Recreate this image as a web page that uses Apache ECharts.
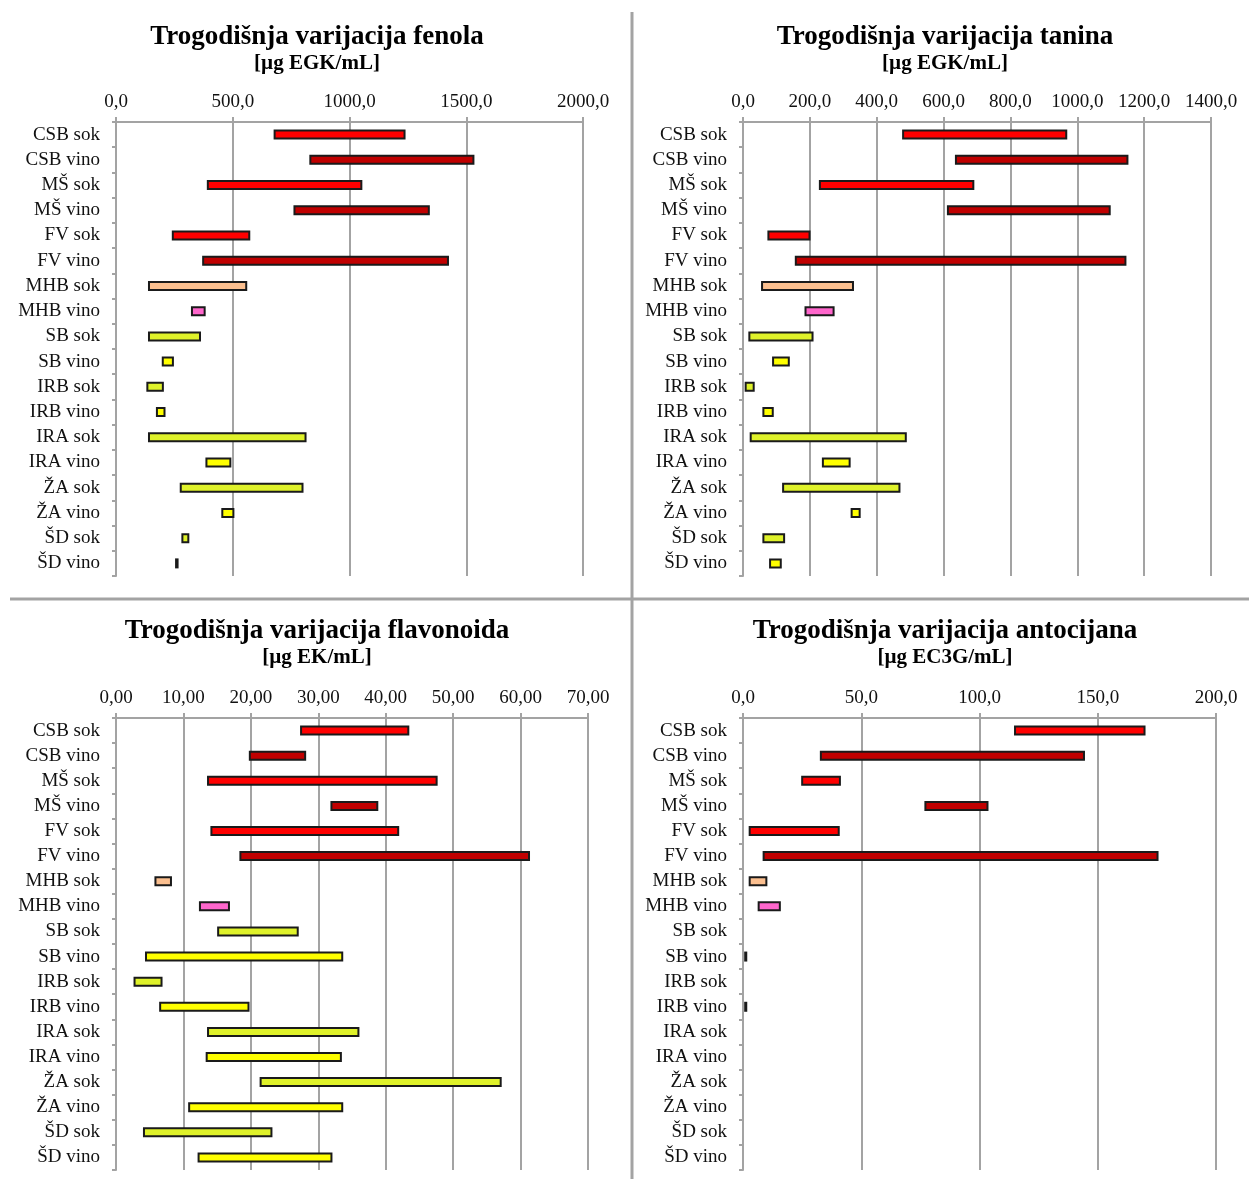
<!DOCTYPE html>
<html>
<head>
<meta charset="utf-8">
<title>Trogodišnja varijacija</title>
<script src="https://cdn.jsdelivr.net/npm/echarts@6/dist/echarts.min.js"></script>
<style>
  html, body { margin: 0; padding: 0; background: #ffffff; }
  #chart { width: 1249px; height: 1179px; }
</style>
</head>
<body>
<div id="chart"></div>
<script>
// Uzorci (sok / vino) – isti redoslijed u sva četiri grafikona
const categories = ['CSB sok', 'CSB vino', 'MŠ sok', 'MŠ vino', 'FV sok', 'FV vino',
  'MHB sok', 'MHB vino', 'SB sok', 'SB vino', 'IRB sok', 'IRB vino',
  'IRA sok', 'IRA vino', 'ŽA sok', 'ŽA vino', 'ŠD sok', 'ŠD vino'];

// Fenoli [µg EGK/mL] – najniža i najviša vrijednost u tri godine
const fenolMin = [675, 828, 389, 760, 239, 369, 137, 321, 137, 196, 130, 171, 137, 383, 273, 451, 280, 253];
const fenolMax = [1240, 1535, 1055, 1344, 575, 1426, 562, 384, 364, 248, 205, 212, 816, 494, 803, 507, 314, 268];

// Tanini [µg EGK/mL]
const taninMin = [476, 634, 227, 610, 73, 155, 54, 184, 16, 87, 5, 58, 20, 236, 117, 322, 58, 78];
const taninMax = [970, 1153, 692, 1100, 202, 1147, 332, 274, 211, 140, 35, 92, 490, 322, 471, 352, 126, 116];

// Flavonoidi [µg EK/mL]
const flavMin = [27.3, 19.7, 13.5, 31.8, 14.0, 18.3, 5.7, 12.3, 15.0, 4.3, 2.6, 6.4, 13.5, 13.3, 21.3, 10.7, 4.0, 12.1];
const flavMax = [43.5, 28.2, 47.7, 38.9, 42.0, 61.4, 8.3, 16.9, 27.1, 33.7, 6.9, 19.8, 36.1, 33.5, 57.2, 33.7, 23.2, 32.1];

// Antocijani [µg EC3G/mL] – bijeli uzorci bez mjerljivih antocijana
const antoMin = [114.6, 32.5, 24.6, 76.7, 2.4, 8.3, 2.4, 6.2, null, 0.5, null, 0.5, null, null, null, null, null, null];
const antoMax = [170.2, 144.6, 41.4, 103.8, 40.9, 175.7, 10.3, 16.0, null, 1.8, null, 1.8, null, null, null, null, null, null];

// Boje stupaca po uzorku
const barColors = ['#FF0000', '#C00000', '#FF0000', '#C00000', '#FF0000', '#C00000',
  '#FBBF8F', '#FF66CC', '#DFF22A', '#FFFF00', '#DFF22A', '#FFFF00',
  '#DFF22A', '#FFFF00', '#DFF22A', '#FFFF00', '#DFF22A', '#FFFF00'];

const panels = [
  { title: 'Trogodišnja varijacija fenola', unit: '[µg EGK/mL]', min: fenolMin, max: fenolMax,
    axisMax: 2000, interval: 500, decimals: 1,
    grid: { left: 116, top: 122, width: 467, height: 454 }, titleX: 317, titleY: 24 },
  { title: 'Trogodišnja varijacija tanina', unit: '[µg EGK/mL]', min: taninMin, max: taninMax,
    axisMax: 1400, interval: 200, decimals: 1,
    grid: { left: 743, top: 122, width: 468, height: 454 }, titleX: 945, titleY: 24 },
  { title: 'Trogodišnja varijacija flavonoida', unit: '[µg EK/mL]', min: flavMin, max: flavMax,
    axisMax: 70, interval: 10, decimals: 2,
    grid: { left: 116, top: 718, width: 472, height: 452 }, titleX: 317, titleY: 618 },
  { title: 'Trogodišnja varijacija antocijana', unit: '[µg EC3G/mL]', min: antoMin, max: antoMax,
    axisMax: 200, interval: 50, decimals: 1,
    grid: { left: 743, top: 718, width: 473, height: 452 }, titleX: 945, titleY: 618 }
];

const serif = '"Liberation Serif", "Times New Roman", serif';
const gray = '#a3a3a3';

const option = {
  animation: false,
  backgroundColor: '#ffffff',
  title: [],
  grid: [],
  xAxis: [],
  yAxis: [],
  series: [],
  graphic: [
    // razdjelnici između četiri grafikona
    { type: 'line', shape: { x1: 632, y1: 12, x2: 632, y2: 1179 }, style: { stroke: gray, lineWidth: 3 } },
    { type: 'line', shape: { x1: 10, y1: 599, x2: 1249, y2: 599 }, style: { stroke: gray, lineWidth: 3 } }
  ]
};

panels.forEach((p, i) => {
  option.title.push({
    text: p.title,
    subtext: p.unit,
    left: p.titleX,
    top: p.titleY,
    textAlign: 'center',
    itemGap: 2,
    padding: 0,
    textStyle: { fontFamily: serif, fontSize: 27, fontWeight: 'bold', color: '#000' },
    subtextStyle: { fontFamily: serif, fontSize: 21, fontWeight: 'bold', color: '#000' }
  });
  option.grid.push(Object.assign({ containLabel: false }, p.grid));
  option.xAxis.push({
    type: 'value',
    gridIndex: i,
    position: 'top',
    min: 0,
    max: p.axisMax,
    interval: p.interval,
    axisLine: { show: true, lineStyle: { color: gray, width: 2 } },
    axisTick: { show: true, length: 5, lineStyle: { color: gray, width: 2 } },
    splitLine: { show: true, lineStyle: { color: gray, width: 2 } },
    axisLabel: {
      margin: 10,
      fontFamily: serif, fontSize: 19, color: '#111',
      formatter: v => v.toFixed(p.decimals).replace('.', ',')
    }
  });
  option.yAxis.push({
    type: 'category',
    gridIndex: i,
    inverse: true,
    data: categories,
    axisLine: { show: true, lineStyle: { color: gray, width: 2 } },
    axisTick: { show: true, length: 4, lineStyle: { color: gray, width: 2 } },
    splitLine: { show: false },
    axisLabel: { margin: 16, fontFamily: serif, fontSize: 19, color: '#111' }
  });
  // nevidljivi dio do najniže vrijednosti
  option.series.push({
    type: 'bar',
    xAxisIndex: i, yAxisIndex: i,
    stack: 'raspon' + i,
    barWidth: 10,
    silent: true,
    itemStyle: { color: 'transparent', borderWidth: 0 },
    data: p.min
  });
  // raspon od najniže do najviše vrijednosti
  option.series.push({
    type: 'bar',
    xAxisIndex: i, yAxisIndex: i,
    stack: 'raspon' + i,
    barWidth: 10,
    itemStyle: {
      color: params => barColors[params.dataIndex],
      borderColor: '#1a1a1a',
      borderWidth: 2
    },
    data: p.max.map((v, k) => (v == null || p.min[k] == null) ? null : +(v - p.min[k]).toFixed(3))
  });
});

const chart = echarts.init(document.getElementById('chart'), null, { renderer: 'canvas' });
chart.setOption(option);
</script>
</body>
</html>
